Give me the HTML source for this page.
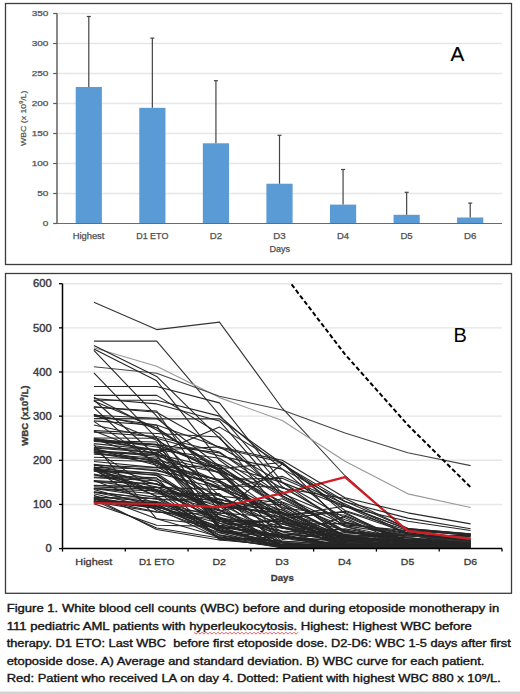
<!DOCTYPE html>
<html><head><meta charset="utf-8"><style>
html,body{margin:0;padding:0;background:#fff;}
body{width:520px;height:694px;overflow:hidden;font-family:"Liberation Sans",sans-serif;}
svg{display:block;}
</style></head><body>
<svg width="520" height="694" viewBox="0 0 520 694">
<rect x="0" y="0" width="520" height="694" fill="#fff"/>
<rect x="0" y="691.6" width="520" height="2.4" fill="#d2d2d2"/>
<rect x="5.5" y="3.5" width="506" height="261" fill="none" stroke="#3c3c3c" stroke-width="1.3"/>
<rect x="5.5" y="273.5" width="506" height="319.8" fill="none" stroke="#3c3c3c" stroke-width="1.3"/>
<line x1="57.0" y1="193.50" x2="502.0" y2="193.50" stroke="#e6e6e6" stroke-width="1.4"/>
<line x1="57.0" y1="163.50" x2="502.0" y2="163.50" stroke="#e6e6e6" stroke-width="1.4"/>
<line x1="57.0" y1="133.50" x2="502.0" y2="133.50" stroke="#e6e6e6" stroke-width="1.4"/>
<line x1="57.0" y1="103.50" x2="502.0" y2="103.50" stroke="#e6e6e6" stroke-width="1.4"/>
<line x1="57.0" y1="73.50" x2="502.0" y2="73.50" stroke="#e6e6e6" stroke-width="1.4"/>
<line x1="57.0" y1="43.50" x2="502.0" y2="43.50" stroke="#e6e6e6" stroke-width="1.4"/>
<line x1="57.0" y1="13.50" x2="502.0" y2="13.50" stroke="#e6e6e6" stroke-width="1.4"/>
<rect x="75.69" y="87.00" width="26.2" height="136.50" fill="#5b9bd5"/>
<rect x="139.26" y="107.82" width="26.2" height="115.68" fill="#5b9bd5"/>
<rect x="202.83" y="143.28" width="26.2" height="80.22" fill="#5b9bd5"/>
<rect x="266.40" y="183.72" width="26.2" height="39.78" fill="#5b9bd5"/>
<rect x="329.97" y="204.60" width="26.2" height="18.90" fill="#5b9bd5"/>
<rect x="393.54" y="214.80" width="26.2" height="8.70" fill="#5b9bd5"/>
<rect x="457.11" y="217.50" width="26.2" height="6.00" fill="#5b9bd5"/>
<line x1="88.79" y1="87.00" x2="88.79" y2="16.50" stroke="#444" stroke-width="1.2"/>
<line x1="86.79" y1="16.50" x2="90.79" y2="16.50" stroke="#444" stroke-width="1.2"/>
<line x1="152.36" y1="107.82" x2="152.36" y2="38.10" stroke="#444" stroke-width="1.2"/>
<line x1="150.36" y1="38.10" x2="154.36" y2="38.10" stroke="#444" stroke-width="1.2"/>
<line x1="215.93" y1="143.28" x2="215.93" y2="80.70" stroke="#444" stroke-width="1.2"/>
<line x1="213.93" y1="80.70" x2="217.93" y2="80.70" stroke="#444" stroke-width="1.2"/>
<line x1="279.50" y1="183.72" x2="279.50" y2="135.30" stroke="#444" stroke-width="1.2"/>
<line x1="277.50" y1="135.30" x2="281.50" y2="135.30" stroke="#444" stroke-width="1.2"/>
<line x1="343.07" y1="204.60" x2="343.07" y2="169.50" stroke="#444" stroke-width="1.2"/>
<line x1="341.07" y1="169.50" x2="345.07" y2="169.50" stroke="#444" stroke-width="1.2"/>
<line x1="406.64" y1="214.80" x2="406.64" y2="192.30" stroke="#444" stroke-width="1.2"/>
<line x1="404.64" y1="192.30" x2="408.64" y2="192.30" stroke="#444" stroke-width="1.2"/>
<line x1="470.21" y1="217.50" x2="470.21" y2="203.10" stroke="#444" stroke-width="1.2"/>
<line x1="468.21" y1="203.10" x2="472.21" y2="203.10" stroke="#444" stroke-width="1.2"/>
<line x1="57.0" y1="13.50" x2="57.0" y2="223.5" stroke="#6b6b6b" stroke-width="1.6"/>
<line x1="53.2" y1="223.50" x2="57.0" y2="223.50" stroke="#5a5a5a" stroke-width="1.2"/>
<line x1="53.2" y1="193.50" x2="57.0" y2="193.50" stroke="#5a5a5a" stroke-width="1.2"/>
<line x1="53.2" y1="163.50" x2="57.0" y2="163.50" stroke="#5a5a5a" stroke-width="1.2"/>
<line x1="53.2" y1="133.50" x2="57.0" y2="133.50" stroke="#5a5a5a" stroke-width="1.2"/>
<line x1="53.2" y1="103.50" x2="57.0" y2="103.50" stroke="#5a5a5a" stroke-width="1.2"/>
<line x1="53.2" y1="73.50" x2="57.0" y2="73.50" stroke="#5a5a5a" stroke-width="1.2"/>
<line x1="53.2" y1="43.50" x2="57.0" y2="43.50" stroke="#5a5a5a" stroke-width="1.2"/>
<line x1="53.2" y1="13.50" x2="57.0" y2="13.50" stroke="#5a5a5a" stroke-width="1.2"/>
<line x1="57.0" y1="223.5" x2="502.0" y2="223.5" stroke="#6b6b6b" stroke-width="1"/>
<text x="42.80" y="226.35" font-family="Liberation Sans, sans-serif" font-size="8.0" fill="#505050" stroke="#505050" stroke-width="0.25" textLength="5.56" lengthAdjust="spacingAndGlyphs">0</text>
<text x="37.20" y="196.35" font-family="Liberation Sans, sans-serif" font-size="8.0" fill="#505050" stroke="#505050" stroke-width="0.25" textLength="11.12" lengthAdjust="spacingAndGlyphs">50</text>
<text x="31.70" y="166.35" font-family="Liberation Sans, sans-serif" font-size="8.0" fill="#505050" stroke="#505050" stroke-width="0.25" textLength="16.68" lengthAdjust="spacingAndGlyphs">100</text>
<text x="31.70" y="136.35" font-family="Liberation Sans, sans-serif" font-size="8.0" fill="#505050" stroke="#505050" stroke-width="0.25" textLength="16.68" lengthAdjust="spacingAndGlyphs">150</text>
<text x="31.70" y="106.35" font-family="Liberation Sans, sans-serif" font-size="8.0" fill="#505050" stroke="#505050" stroke-width="0.25" textLength="16.68" lengthAdjust="spacingAndGlyphs">200</text>
<text x="31.70" y="76.35" font-family="Liberation Sans, sans-serif" font-size="8.0" fill="#505050" stroke="#505050" stroke-width="0.25" textLength="16.68" lengthAdjust="spacingAndGlyphs">250</text>
<text x="31.70" y="46.35" font-family="Liberation Sans, sans-serif" font-size="8.0" fill="#505050" stroke="#505050" stroke-width="0.25" textLength="16.68" lengthAdjust="spacingAndGlyphs">300</text>
<text x="31.70" y="16.35" font-family="Liberation Sans, sans-serif" font-size="8.0" fill="#505050" stroke="#505050" stroke-width="0.25" textLength="16.68" lengthAdjust="spacingAndGlyphs">350</text>
<text x="72.65" y="238.70" font-family="Liberation Sans, sans-serif" font-size="8.3" fill="#505050" stroke="#505050" stroke-width="0.25" textLength="31.75" lengthAdjust="spacingAndGlyphs">Highest</text>
<text x="136.18" y="238.70" font-family="Liberation Sans, sans-serif" font-size="8.3" fill="#505050" stroke="#505050" stroke-width="0.25" textLength="32.21" lengthAdjust="spacingAndGlyphs">D1 ETO</text>
<text x="209.76" y="238.70" font-family="Liberation Sans, sans-serif" font-size="8.3" fill="#505050" stroke="#505050" stroke-width="0.25" textLength="12.34" lengthAdjust="spacingAndGlyphs">D2</text>
<text x="273.33" y="238.70" font-family="Liberation Sans, sans-serif" font-size="8.3" fill="#505050" stroke="#505050" stroke-width="0.25" textLength="12.34" lengthAdjust="spacingAndGlyphs">D3</text>
<text x="336.91" y="238.70" font-family="Liberation Sans, sans-serif" font-size="8.3" fill="#505050" stroke="#505050" stroke-width="0.25" textLength="12.13" lengthAdjust="spacingAndGlyphs">D4</text>
<text x="400.48" y="238.70" font-family="Liberation Sans, sans-serif" font-size="8.3" fill="#505050" stroke="#505050" stroke-width="0.25" textLength="12.23" lengthAdjust="spacingAndGlyphs">D5</text>
<text x="464.04" y="238.70" font-family="Liberation Sans, sans-serif" font-size="8.3" fill="#505050" stroke="#505050" stroke-width="0.25" textLength="12.34" lengthAdjust="spacingAndGlyphs">D6</text>
<text x="269.48" y="251.90" font-family="Liberation Sans, sans-serif" font-size="8.3" fill="#505050" stroke="#505050" stroke-width="0.25" textLength="20.57" lengthAdjust="spacingAndGlyphs">Days</text>
<text transform="translate(25.7,118.3) rotate(-90) scale(1.12,1)" x="0" y="0" font-family="Liberation Sans, sans-serif" font-size="7.8" fill="#505050" stroke="#505050" stroke-width="0.2" text-anchor="middle">WBC (x 10<tspan font-size="4.8" dy="-2.6">9</tspan><tspan dy="2.6">/L)</tspan></text>
<text x="450.6" y="60.6" font-family="Liberation Sans, sans-serif" font-size="20.6" fill="#000" stroke="#000" stroke-width="0.15">A</text>
<line x1="62.5" y1="504.45" x2="502.0" y2="504.45" stroke="#e6e6e6" stroke-width="1.4"/>
<line x1="62.5" y1="460.30" x2="502.0" y2="460.30" stroke="#e6e6e6" stroke-width="1.4"/>
<line x1="62.5" y1="416.15" x2="502.0" y2="416.15" stroke="#e6e6e6" stroke-width="1.4"/>
<line x1="62.5" y1="372.00" x2="502.0" y2="372.00" stroke="#e6e6e6" stroke-width="1.4"/>
<line x1="62.5" y1="327.85" x2="502.0" y2="327.85" stroke="#e6e6e6" stroke-width="1.4"/>
<line x1="62.5" y1="283.70" x2="502.0" y2="283.70" stroke="#e6e6e6" stroke-width="1.4"/>
<g><polyline points="93.89,476.99 156.68,479.02 219.46,503.89 282.25,534.41 345.04,546.64 407.82,547.39 470.61,546.89" fill="none" stroke="#262626" stroke-width="1.1" stroke-linejoin="round"/><polyline points="93.89,452.21 156.68,454.79 219.46,481.45 282.25,541.93 345.04,542.51 407.82,544.49 470.61,544.95" fill="none" stroke="#262626" stroke-width="1.1" stroke-linejoin="round"/><polyline points="93.89,420.88 156.68,425.30 219.46,528.24 282.25,518.59 345.04,511.34 407.82,532.79 470.61,540.38" fill="none" stroke="#262626" stroke-width="1.1" stroke-linejoin="round"/><polyline points="93.89,447.94 156.68,452.67 219.46,500.15 282.25,542.63 345.04,547.25 407.82,548.20 470.61,547.71" fill="none" stroke="#262626" stroke-width="1.1" stroke-linejoin="round"/><polyline points="93.89,452.64 156.68,463.52 219.46,480.77 282.25,512.22 345.04,543.80 407.82,546.81 470.61,547.68" fill="none" stroke="#262626" stroke-width="1.1" stroke-linejoin="round"/><polyline points="93.89,406.93 156.68,411.05 219.46,504.60 282.25,509.69 345.04,544.24 407.82,547.06 470.61,542.42" fill="none" stroke="#262626" stroke-width="1.1" stroke-linejoin="round"/><polyline points="93.89,468.07 156.68,491.41 219.46,519.18 282.25,536.96 345.04,546.77 407.82,548.29 470.61,548.47" fill="none" stroke="#262626" stroke-width="1.1" stroke-linejoin="round"/><polyline points="93.89,493.81 156.68,508.33 219.46,538.23 282.25,547.64 345.04,548.12 407.82,547.11 470.61,548.30" fill="none" stroke="#262626" stroke-width="1.1" stroke-linejoin="round"/><polyline points="93.89,474.74 156.68,489.84 219.46,520.64 282.25,546.50 345.04,540.24 407.82,545.33 470.61,546.79" fill="none" stroke="#262626" stroke-width="1.1" stroke-linejoin="round"/><polyline points="93.89,432.15 156.68,436.53 219.46,452.03 282.25,496.12 345.04,524.88 407.82,530.66 470.61,534.98" fill="none" stroke="#262626" stroke-width="1.1" stroke-linejoin="round"/><polyline points="93.89,501.66 156.68,505.77 219.46,506.77 282.25,513.37 345.04,546.74 407.82,547.84 470.61,547.42" fill="none" stroke="#262626" stroke-width="1.1" stroke-linejoin="round"/><polyline points="93.89,502.77 156.68,506.10 219.46,526.89 282.25,537.42 345.04,541.44 407.82,545.15 470.61,543.89" fill="none" stroke="#262626" stroke-width="1.1" stroke-linejoin="round"/><polyline points="93.89,469.36 156.68,475.45 219.46,518.40 282.25,531.50 345.04,547.99 407.82,548.39 470.61,548.38" fill="none" stroke="#262626" stroke-width="1.1" stroke-linejoin="round"/><polyline points="93.89,497.84 156.68,506.58 219.46,529.00 282.25,523.68 345.04,545.60 407.82,544.42 470.61,547.32" fill="none" stroke="#262626" stroke-width="1.1" stroke-linejoin="round"/><polyline points="93.89,480.55 156.68,483.95 219.46,510.61 282.25,536.54 345.04,541.16 407.82,544.68 470.61,545.11" fill="none" stroke="#262626" stroke-width="1.1" stroke-linejoin="round"/><polyline points="93.89,440.15 156.68,444.20 219.46,470.49 282.25,517.11 345.04,537.24 407.82,539.98 470.61,545.73" fill="none" stroke="#262626" stroke-width="1.1" stroke-linejoin="round"/><polyline points="93.89,485.30 156.68,487.38 219.46,489.47 282.25,476.29 345.04,503.88 407.82,533.68 470.61,541.67" fill="none" stroke="#262626" stroke-width="1.1" stroke-linejoin="round"/><polyline points="93.89,467.36 156.68,469.28 219.46,496.08 282.25,502.71 345.04,537.83 407.82,541.72 470.61,540.98" fill="none" stroke="#262626" stroke-width="1.1" stroke-linejoin="round"/><polyline points="93.89,400.89 156.68,427.92 219.46,471.29 282.25,527.75 345.04,544.20 407.82,545.43 470.61,546.15" fill="none" stroke="#262626" stroke-width="1.1" stroke-linejoin="round"/><polyline points="93.89,499.14 156.68,511.78 219.46,519.80 282.25,521.45 345.04,547.98 407.82,547.08 470.61,548.14" fill="none" stroke="#262626" stroke-width="1.1" stroke-linejoin="round"/><polyline points="93.89,470.55 156.68,496.19 219.46,530.92 282.25,543.22 345.04,545.47 407.82,546.65 470.61,547.33" fill="none" stroke="#262626" stroke-width="1.1" stroke-linejoin="round"/><polyline points="93.89,440.62 156.68,444.79 219.46,468.76 282.25,462.49 345.04,525.63 407.82,535.40 470.61,541.82" fill="none" stroke="#262626" stroke-width="1.1" stroke-linejoin="round"/><polyline points="93.89,460.07 156.68,461.57 219.46,517.59 282.25,546.52 345.04,546.02 407.82,547.87 470.61,548.24" fill="none" stroke="#262626" stroke-width="1.1" stroke-linejoin="round"/><polyline points="93.89,501.07 156.68,502.49 219.46,520.89 282.25,537.92 345.04,547.32 407.82,546.75 470.61,545.12" fill="none" stroke="#262626" stroke-width="1.1" stroke-linejoin="round"/><polyline points="93.89,431.05 156.68,455.30 219.46,525.62 282.25,520.44 345.04,540.50 407.82,546.34 470.61,546.64" fill="none" stroke="#262626" stroke-width="1.1" stroke-linejoin="round"/><polyline points="93.89,452.74 156.68,460.46 219.46,503.40 282.25,504.53 345.04,547.17 407.82,547.94 470.61,548.19" fill="none" stroke="#262626" stroke-width="1.1" stroke-linejoin="round"/><polyline points="93.89,464.41 156.68,470.84 219.46,482.47 282.25,515.75 345.04,547.39 407.82,547.96 470.61,548.41" fill="none" stroke="#262626" stroke-width="1.1" stroke-linejoin="round"/><polyline points="93.89,438.89 156.68,460.26 219.46,472.54 282.25,526.95 345.04,544.08 407.82,546.78 470.61,547.12" fill="none" stroke="#262626" stroke-width="1.1" stroke-linejoin="round"/><polyline points="93.89,488.52 156.68,497.37 219.46,531.02 282.25,546.96 345.04,548.41 407.82,548.15 470.61,548.37" fill="none" stroke="#262626" stroke-width="1.1" stroke-linejoin="round"/><polyline points="93.89,469.53 156.68,492.70 219.46,510.90 282.25,498.75 345.04,531.92 407.82,540.18 470.61,539.82" fill="none" stroke="#262626" stroke-width="1.1" stroke-linejoin="round"/><polyline points="93.89,492.29 156.68,504.07 219.46,536.90 282.25,545.64 345.04,546.71 407.82,547.68 470.61,548.08" fill="none" stroke="#262626" stroke-width="1.1" stroke-linejoin="round"/><polyline points="93.89,477.70 156.68,480.68 219.46,526.46 282.25,547.32 345.04,548.08 407.82,547.42 470.61,547.94" fill="none" stroke="#262626" stroke-width="1.1" stroke-linejoin="round"/><polyline points="93.89,498.92 156.68,505.94 219.46,529.68 282.25,546.70 345.04,548.18 407.82,548.30 470.61,547.59" fill="none" stroke="#262626" stroke-width="1.1" stroke-linejoin="round"/><polyline points="93.89,485.57 156.68,487.33 219.46,506.45 282.25,547.11 345.04,548.15 407.82,548.07 470.61,548.15" fill="none" stroke="#262626" stroke-width="1.1" stroke-linejoin="round"/><polyline points="93.89,443.65 156.68,450.07 219.46,446.85 282.25,482.75 345.04,517.78 407.82,546.24 470.61,545.61" fill="none" stroke="#262626" stroke-width="1.1" stroke-linejoin="round"/><polyline points="93.89,418.65 156.68,418.85 219.46,418.73 282.25,463.72 345.04,510.56 407.82,530.49 470.61,538.69" fill="none" stroke="#262626" stroke-width="1.1" stroke-linejoin="round"/><polyline points="93.89,457.22 156.68,459.26 219.46,526.84 282.25,535.43 345.04,545.34 407.82,545.96 470.61,547.32" fill="none" stroke="#262626" stroke-width="1.1" stroke-linejoin="round"/><polyline points="93.89,414.49 156.68,440.25 219.46,473.58 282.25,527.77 345.04,529.74 407.82,543.94 470.61,545.44" fill="none" stroke="#262626" stroke-width="1.1" stroke-linejoin="round"/><polyline points="93.89,444.61 156.68,518.77 219.46,526.07 282.25,535.22 345.04,528.85 407.82,539.80 470.61,543.50" fill="none" stroke="#262626" stroke-width="1.1" stroke-linejoin="round"/><polyline points="93.89,448.60 156.68,462.26 219.46,480.41 282.25,519.13 345.04,534.65 407.82,537.84 470.61,544.23" fill="none" stroke="#262626" stroke-width="1.1" stroke-linejoin="round"/><polyline points="93.89,415.18 156.68,418.22 219.46,466.28 282.25,508.03 345.04,515.26 407.82,541.32 470.61,543.68" fill="none" stroke="#262626" stroke-width="1.1" stroke-linejoin="round"/><polyline points="93.89,481.13 156.68,489.94 219.46,498.87 282.25,519.92 345.04,537.51 407.82,547.69 470.61,548.10" fill="none" stroke="#262626" stroke-width="1.1" stroke-linejoin="round"/><polyline points="93.89,450.92 156.68,454.39 219.46,468.48 282.25,508.56 345.04,538.71 407.82,542.18 470.61,544.58" fill="none" stroke="#262626" stroke-width="1.1" stroke-linejoin="round"/><polyline points="93.89,492.14 156.68,499.01 219.46,499.65 282.25,512.16 345.04,536.33 407.82,535.08 470.61,540.36" fill="none" stroke="#262626" stroke-width="1.1" stroke-linejoin="round"/><polyline points="93.89,414.56 156.68,427.78 219.46,469.79 282.25,502.01 345.04,526.44 407.82,544.64 470.61,547.55" fill="none" stroke="#262626" stroke-width="1.1" stroke-linejoin="round"/><polyline points="93.89,471.12 156.68,474.72 219.46,517.11 282.25,542.67 345.04,547.34 407.82,547.77 470.61,547.72" fill="none" stroke="#262626" stroke-width="1.1" stroke-linejoin="round"/><polyline points="93.89,470.49 156.68,473.26 219.46,514.79 282.25,531.14 345.04,534.18 407.82,546.86 470.61,547.61" fill="none" stroke="#262626" stroke-width="1.1" stroke-linejoin="round"/><polyline points="93.89,489.57 156.68,506.96 219.46,523.32 282.25,544.40 345.04,545.88 407.82,538.74 470.61,544.79" fill="none" stroke="#262626" stroke-width="1.1" stroke-linejoin="round"/><polyline points="93.89,465.41 156.68,467.47 219.46,479.41 282.25,478.15 345.04,506.01 407.82,534.64 470.61,544.75" fill="none" stroke="#262626" stroke-width="1.1" stroke-linejoin="round"/><polyline points="93.89,461.47 156.68,467.62 219.46,465.54 282.25,506.66 345.04,535.56 407.82,544.39 470.61,544.56" fill="none" stroke="#262626" stroke-width="1.1" stroke-linejoin="round"/><polyline points="93.89,468.93 156.68,510.47 219.46,532.65 282.25,548.07 345.04,548.32 407.82,548.18 470.61,547.84" fill="none" stroke="#262626" stroke-width="1.1" stroke-linejoin="round"/><polyline points="93.89,470.82 156.68,483.96 219.46,513.13 282.25,517.31 345.04,546.78 407.82,548.19 470.61,548.37" fill="none" stroke="#262626" stroke-width="1.1" stroke-linejoin="round"/><polyline points="93.89,440.03 156.68,445.03 219.46,509.72 282.25,533.74 345.04,539.59 407.82,547.53 470.61,548.34" fill="none" stroke="#262626" stroke-width="1.1" stroke-linejoin="round"/><polyline points="93.89,496.89 156.68,501.60 219.46,517.63 282.25,528.19 345.04,536.80 407.82,536.70 470.61,535.92" fill="none" stroke="#262626" stroke-width="1.1" stroke-linejoin="round"/><polyline points="93.89,495.22 156.68,518.70 219.46,537.07 282.25,547.60 345.04,543.97 407.82,546.13 470.61,546.95" fill="none" stroke="#262626" stroke-width="1.1" stroke-linejoin="round"/><polyline points="93.89,498.78 156.68,508.69 219.46,530.37 282.25,542.79 345.04,547.35 407.82,546.85 470.61,547.10" fill="none" stroke="#262626" stroke-width="1.1" stroke-linejoin="round"/><polyline points="93.89,451.03 156.68,456.26 219.46,472.01 282.25,491.54 345.04,538.45 407.82,542.12 470.61,545.81" fill="none" stroke="#262626" stroke-width="1.1" stroke-linejoin="round"/><polyline points="93.89,501.61 156.68,512.30 219.46,514.53 282.25,534.76 345.04,535.67 407.82,542.68 470.61,544.75" fill="none" stroke="#262626" stroke-width="1.1" stroke-linejoin="round"/><polyline points="93.89,480.45 156.68,503.66 219.46,535.60 282.25,545.02 345.04,547.43 407.82,547.55 470.61,547.42" fill="none" stroke="#262626" stroke-width="1.1" stroke-linejoin="round"/><polyline points="93.89,481.60 156.68,483.76 219.46,510.01 282.25,546.51 345.04,546.39 407.82,545.52 470.61,546.87" fill="none" stroke="#262626" stroke-width="1.1" stroke-linejoin="round"/><polyline points="93.89,445.79 156.68,453.37 219.46,427.11 282.25,464.12 345.04,501.28 407.82,528.44 470.61,533.70" fill="none" stroke="#262626" stroke-width="1.1" stroke-linejoin="round"/><polyline points="93.89,473.96 156.68,486.98 219.46,523.02 282.25,526.92 345.04,544.99 407.82,546.43 470.61,547.10" fill="none" stroke="#262626" stroke-width="1.1" stroke-linejoin="round"/><polyline points="93.89,491.73 156.68,499.24 219.46,502.57 282.25,517.34 345.04,543.96 407.82,540.33 470.61,536.39" fill="none" stroke="#262626" stroke-width="1.1" stroke-linejoin="round"/><polyline points="93.89,468.38 156.68,473.32 219.46,488.17 282.25,510.19 345.04,540.29 407.82,546.42 470.61,546.18" fill="none" stroke="#262626" stroke-width="1.1" stroke-linejoin="round"/><polyline points="93.89,488.66 156.68,490.86 219.46,502.15 282.25,524.07 345.04,523.58 407.82,532.61 470.61,541.52" fill="none" stroke="#262626" stroke-width="1.1" stroke-linejoin="round"/><polyline points="93.89,397.25 156.68,429.91 219.46,467.16 282.25,539.33 345.04,531.74 407.82,534.63 470.61,544.82" fill="none" stroke="#262626" stroke-width="1.1" stroke-linejoin="round"/><polyline points="93.89,400.03 156.68,456.01 219.46,518.97 282.25,542.01 345.04,537.06 407.82,542.88 470.61,547.16" fill="none" stroke="#262626" stroke-width="1.1" stroke-linejoin="round"/><polyline points="93.89,449.12 156.68,465.28 219.46,486.86 282.25,514.27 345.04,539.31 407.82,546.55 470.61,547.06" fill="none" stroke="#262626" stroke-width="1.1" stroke-linejoin="round"/><polyline points="93.89,474.95 156.68,477.86 219.46,539.91 282.25,536.59 345.04,545.71 407.82,544.62 470.61,546.76" fill="none" stroke="#262626" stroke-width="1.1" stroke-linejoin="round"/><polyline points="93.89,454.16 156.68,457.97 219.46,489.03 282.25,516.20 345.04,506.07 407.82,529.15 470.61,535.65" fill="none" stroke="#262626" stroke-width="1.1" stroke-linejoin="round"/><polyline points="93.89,440.35 156.68,449.86 219.46,458.30 282.25,497.12 345.04,532.91 407.82,535.77 470.61,535.28" fill="none" stroke="#262626" stroke-width="1.1" stroke-linejoin="round"/><polyline points="93.89,497.20 156.68,498.47 219.46,534.86 282.25,545.06 345.04,546.06 407.82,547.40 470.61,544.19" fill="none" stroke="#262626" stroke-width="1.1" stroke-linejoin="round"/><polyline points="93.89,500.35 156.68,528.04 219.46,537.92 282.25,540.99 345.04,545.44 407.82,544.91 470.61,548.00" fill="none" stroke="#262626" stroke-width="1.1" stroke-linejoin="round"/><polyline points="93.89,438.62 156.68,450.93 219.46,485.78 282.25,487.09 345.04,522.93 407.82,533.90 470.61,542.66" fill="none" stroke="#262626" stroke-width="1.1" stroke-linejoin="round"/><polyline points="93.89,430.65 156.68,433.46 219.46,436.97 282.25,514.43 345.04,512.31 407.82,545.99 470.61,546.85" fill="none" stroke="#262626" stroke-width="1.1" stroke-linejoin="round"/><polyline points="93.89,450.12 156.68,490.64 219.46,538.91 282.25,546.67 345.04,548.28 407.82,548.28 470.61,548.40" fill="none" stroke="#262626" stroke-width="1.1" stroke-linejoin="round"/><polyline points="93.89,406.92 156.68,412.23 219.46,447.95 282.25,462.31 345.04,513.48 407.82,541.73 470.61,542.42" fill="none" stroke="#262626" stroke-width="1.1" stroke-linejoin="round"/><polyline points="93.89,447.67 156.68,449.68 219.46,506.31 282.25,512.80 345.04,530.52 407.82,545.23 470.61,546.99" fill="none" stroke="#262626" stroke-width="1.1" stroke-linejoin="round"/><polyline points="93.89,438.03 156.68,438.25 219.46,530.40 282.25,536.40 345.04,547.36 407.82,548.40 470.61,548.42" fill="none" stroke="#262626" stroke-width="1.1" stroke-linejoin="round"/><polyline points="93.89,464.49 156.68,481.23 219.46,521.53 282.25,521.44 345.04,538.79 407.82,545.93 470.61,547.49" fill="none" stroke="#262626" stroke-width="1.1" stroke-linejoin="round"/><polyline points="93.89,497.99 156.68,529.57 219.46,540.04 282.25,545.54 345.04,547.60 407.82,546.84 470.61,547.53" fill="none" stroke="#262626" stroke-width="1.1" stroke-linejoin="round"/><polyline points="93.89,486.85 156.68,489.25 219.46,532.65 282.25,536.74 345.04,516.36 407.82,542.71 470.61,537.83" fill="none" stroke="#262626" stroke-width="1.1" stroke-linejoin="round"/><polyline points="93.89,466.87 156.68,496.62 219.46,495.04 282.25,532.03 345.04,541.61 407.82,543.92 470.61,547.18" fill="none" stroke="#262626" stroke-width="1.1" stroke-linejoin="round"/><polyline points="93.89,441.38 156.68,444.63 219.46,452.92 282.25,488.17 345.04,498.56 407.82,528.44 470.61,534.11" fill="none" stroke="#262626" stroke-width="1.1" stroke-linejoin="round"/><polyline points="93.89,407.72 156.68,466.26 219.46,504.48 282.25,548.15 345.04,547.54 407.82,548.02 470.61,547.51" fill="none" stroke="#262626" stroke-width="1.1" stroke-linejoin="round"/><polyline points="93.89,398.51 156.68,403.91 219.46,420.93 282.25,493.57 345.04,519.78 407.82,540.87 470.61,541.97" fill="none" stroke="#262626" stroke-width="1.1" stroke-linejoin="round"/><polyline points="93.89,501.16 156.68,507.93 219.46,513.03 282.25,463.97 345.04,505.46 407.82,529.55 470.61,533.95" fill="none" stroke="#262626" stroke-width="1.1" stroke-linejoin="round"/><polyline points="93.89,502.20 156.68,502.82 219.46,527.13 282.25,547.12 345.04,543.71 407.82,543.78 470.61,544.96" fill="none" stroke="#262626" stroke-width="1.1" stroke-linejoin="round"/><polyline points="93.89,467.89 156.68,484.39 219.46,501.76 282.25,528.14 345.04,536.98 407.82,545.13 470.61,546.32" fill="none" stroke="#262626" stroke-width="1.1" stroke-linejoin="round"/><polyline points="93.89,503.67 156.68,525.25 219.46,526.40 282.25,536.33 345.04,546.01 407.82,547.10 470.61,547.94" fill="none" stroke="#262626" stroke-width="1.1" stroke-linejoin="round"/><polyline points="93.89,421.40 156.68,463.40 219.46,487.76 282.25,523.88 345.04,539.97 407.82,540.88 470.61,534.45" fill="none" stroke="#262626" stroke-width="1.1" stroke-linejoin="round"/><polyline points="93.89,488.37 156.68,493.95 219.46,493.60 282.25,546.53 345.04,547.04 407.82,546.58 470.61,544.81" fill="none" stroke="#262626" stroke-width="1.1" stroke-linejoin="round"/><polyline points="93.89,440.66 156.68,442.00 219.46,528.67 282.25,544.84 345.04,547.27 407.82,546.60 470.61,547.14" fill="none" stroke="#262626" stroke-width="1.1" stroke-linejoin="round"/><polyline points="93.89,302.24 156.68,329.62 219.46,322.11 282.25,408.20 345.04,475.75 407.82,531.38 470.61,539.77" fill="none" stroke="#333" stroke-width="1.1" stroke-linejoin="round"/><polyline points="93.89,341.10 156.68,341.10 219.46,414.83 282.25,486.79 345.04,522.11 407.82,535.36 470.61,541.98" fill="none" stroke="#333" stroke-width="1.1" stroke-linejoin="round"/><polyline points="93.89,347.72 156.68,366.26 219.46,397.61 282.25,420.56 345.04,461.18 407.82,493.85 470.61,507.54" fill="none" stroke="#999" stroke-width="1.1" stroke-linejoin="round"/><polyline points="93.89,366.70 156.68,373.32 219.46,396.28 282.25,409.97 345.04,432.93 407.82,452.79 470.61,465.60" fill="none" stroke="#444" stroke-width="1.1" stroke-linejoin="round"/><polyline points="93.89,345.51 156.68,376.41 219.46,438.23 282.25,495.62 345.04,530.94 407.82,539.77 470.61,544.19" fill="none" stroke="#262626" stroke-width="1.1" stroke-linejoin="round"/><polyline points="93.89,349.04 156.68,380.83 219.46,460.30 282.25,504.45 345.04,535.36 407.82,541.98 470.61,545.07" fill="none" stroke="#262626" stroke-width="1.1" stroke-linejoin="round"/><polyline points="93.89,350.37 156.68,416.15 219.46,482.38 282.25,522.11 345.04,539.77 407.82,544.19 470.61,546.39" fill="none" stroke="#262626" stroke-width="1.1" stroke-linejoin="round"/><polyline points="93.89,503.13 156.68,504.01 219.46,507.10 282.25,493.41 345.04,477.08 407.82,530.94 470.61,538.89" fill="none" stroke="#d41c24" stroke-width="2.2" stroke-linejoin="round"/><polyline points="93.89,372.88 156.68,438.23 219.46,495.62 282.25,526.52 345.04,540.65 407.82,545.07 470.61,546.83" fill="none" stroke="#262626" stroke-width="1.1" stroke-linejoin="round"/><polyline points="93.89,386.57 156.68,386.57 219.46,402.90 282.25,482.38 345.04,526.52 407.82,539.77 470.61,544.19" fill="none" stroke="#262626" stroke-width="1.1" stroke-linejoin="round"/><polyline points="93.89,395.40 156.68,395.40 219.46,433.81 282.25,495.62 345.04,530.94 407.82,541.98 470.61,545.07" fill="none" stroke="#262626" stroke-width="1.1" stroke-linejoin="round"/><polyline points="93.89,400.26 156.68,400.26 219.46,416.15 282.25,469.13 345.04,522.11 407.82,537.56 470.61,543.30" fill="none" stroke="#262626" stroke-width="1.1" stroke-linejoin="round"/><polyline points="93.89,416.15 156.68,424.98 219.46,447.06 282.25,460.30 345.04,497.83 407.82,512.84 470.61,523.88" fill="none" stroke="#262626" stroke-width="1.1" stroke-linejoin="round"/><polyline points="93.89,424.98 156.68,438.23 219.46,455.88 282.25,469.13 345.04,501.80 407.82,518.14 470.61,528.73" fill="none" stroke="#262626" stroke-width="1.1" stroke-linejoin="round"/><polyline points="93.89,438.23 156.68,447.06 219.46,464.72 282.25,482.38 345.04,506.66 407.82,521.23 470.61,530.50" fill="none" stroke="#262626" stroke-width="1.1" stroke-linejoin="round"/></g>
<clipPath id="cb"><rect x="62.5" y="283.7" width="439.5" height="264.90000000000003"/></clipPath>
<polyline clip-path="url(#cb)" points="93.89,160.08 156.68,177.74 219.46,195.40 282.25,272.22 345.04,354.34 407.82,424.98 470.61,487.23" fill="none" stroke="#000" stroke-width="2" stroke-dasharray="4.5 2.5"/>
<line x1="62.5" y1="283.70" x2="62.5" y2="548.6" stroke="#000" stroke-width="1.5"/>
<line x1="59.0" y1="548.60" x2="62.5" y2="548.60" stroke="#000" stroke-width="1.3"/>
<line x1="59.0" y1="504.45" x2="62.5" y2="504.45" stroke="#000" stroke-width="1.3"/>
<line x1="59.0" y1="460.30" x2="62.5" y2="460.30" stroke="#000" stroke-width="1.3"/>
<line x1="59.0" y1="416.15" x2="62.5" y2="416.15" stroke="#000" stroke-width="1.3"/>
<line x1="59.0" y1="372.00" x2="62.5" y2="372.00" stroke="#000" stroke-width="1.3"/>
<line x1="59.0" y1="327.85" x2="62.5" y2="327.85" stroke="#000" stroke-width="1.3"/>
<line x1="59.0" y1="283.70" x2="62.5" y2="283.70" stroke="#000" stroke-width="1.3"/>
<line x1="62.5" y1="548.6" x2="502.0" y2="548.6" stroke="#000" stroke-width="1.5"/>
<line x1="62.50" y1="548.6" x2="62.50" y2="551.6" stroke="#000" stroke-width="1.3"/>
<line x1="125.29" y1="548.6" x2="125.29" y2="551.6" stroke="#000" stroke-width="1.3"/>
<line x1="188.07" y1="548.6" x2="188.07" y2="551.6" stroke="#000" stroke-width="1.3"/>
<line x1="250.86" y1="548.6" x2="250.86" y2="551.6" stroke="#000" stroke-width="1.3"/>
<line x1="313.64" y1="548.6" x2="313.64" y2="551.6" stroke="#000" stroke-width="1.3"/>
<line x1="376.43" y1="548.6" x2="376.43" y2="551.6" stroke="#000" stroke-width="1.3"/>
<line x1="439.21" y1="548.6" x2="439.21" y2="551.6" stroke="#000" stroke-width="1.3"/>
<line x1="502.00" y1="548.6" x2="502.00" y2="551.6" stroke="#000" stroke-width="1.3"/>
<text x="45.46" y="552.25" font-family="Liberation Sans, sans-serif" font-size="10.3" fill="#3a3a3a" stroke="#3a3a3a" stroke-width="0.4" textLength="6.24" lengthAdjust="spacingAndGlyphs">0</text>
<text x="33.00" y="508.10" font-family="Liberation Sans, sans-serif" font-size="10.3" fill="#3a3a3a" stroke="#3a3a3a" stroke-width="0.4" textLength="18.73" lengthAdjust="spacingAndGlyphs">100</text>
<text x="33.00" y="463.95" font-family="Liberation Sans, sans-serif" font-size="10.3" fill="#3a3a3a" stroke="#3a3a3a" stroke-width="0.4" textLength="18.73" lengthAdjust="spacingAndGlyphs">200</text>
<text x="33.00" y="419.80" font-family="Liberation Sans, sans-serif" font-size="10.3" fill="#3a3a3a" stroke="#3a3a3a" stroke-width="0.4" textLength="18.73" lengthAdjust="spacingAndGlyphs">300</text>
<text x="33.00" y="375.65" font-family="Liberation Sans, sans-serif" font-size="10.3" fill="#3a3a3a" stroke="#3a3a3a" stroke-width="0.4" textLength="18.73" lengthAdjust="spacingAndGlyphs">400</text>
<text x="33.00" y="331.50" font-family="Liberation Sans, sans-serif" font-size="10.3" fill="#3a3a3a" stroke="#3a3a3a" stroke-width="0.4" textLength="18.73" lengthAdjust="spacingAndGlyphs">500</text>
<text x="33.00" y="287.35" font-family="Liberation Sans, sans-serif" font-size="10.3" fill="#3a3a3a" stroke="#3a3a3a" stroke-width="0.4" textLength="18.73" lengthAdjust="spacingAndGlyphs">600</text>
<text x="75.33" y="565.40" font-family="Liberation Sans, sans-serif" font-size="9.5" fill="#3a3a3a" stroke="#3a3a3a" stroke-width="0.3" textLength="36.88" lengthAdjust="spacingAndGlyphs">Highest</text>
<text x="138.91" y="565.40" font-family="Liberation Sans, sans-serif" font-size="9.5" fill="#3a3a3a" stroke="#3a3a3a" stroke-width="0.3" textLength="35.42" lengthAdjust="spacingAndGlyphs">D1 ETO</text>
<text x="212.52" y="565.40" font-family="Liberation Sans, sans-serif" font-size="9.5" fill="#3a3a3a" stroke="#3a3a3a" stroke-width="0.3" textLength="13.45" lengthAdjust="spacingAndGlyphs">D2</text>
<text x="275.31" y="565.40" font-family="Liberation Sans, sans-serif" font-size="9.5" fill="#3a3a3a" stroke="#3a3a3a" stroke-width="0.3" textLength="13.45" lengthAdjust="spacingAndGlyphs">D3</text>
<text x="338.11" y="565.40" font-family="Liberation Sans, sans-serif" font-size="9.5" fill="#3a3a3a" stroke="#3a3a3a" stroke-width="0.3" textLength="13.22" lengthAdjust="spacingAndGlyphs">D4</text>
<text x="400.89" y="565.40" font-family="Liberation Sans, sans-serif" font-size="9.5" fill="#3a3a3a" stroke="#3a3a3a" stroke-width="0.3" textLength="13.33" lengthAdjust="spacingAndGlyphs">D5</text>
<text x="463.67" y="565.40" font-family="Liberation Sans, sans-serif" font-size="9.5" fill="#3a3a3a" stroke="#3a3a3a" stroke-width="0.3" textLength="13.45" lengthAdjust="spacingAndGlyphs">D6</text>
<text x="270.83" y="581.20" font-family="Liberation Sans, sans-serif" font-size="9.5" font-weight="bold" fill="#3a3a3a" stroke="#3a3a3a" stroke-width="0.3" textLength="22.96" lengthAdjust="spacingAndGlyphs">Days</text>
<text transform="translate(27.6,415.6) rotate(-90) scale(1.06,1)" x="0" y="0" font-family="Liberation Sans, sans-serif" font-size="9.1" font-weight="bold" fill="#3a3a3a" stroke="#3a3a3a" stroke-width="0.35" text-anchor="middle">WBC (x10<tspan font-size="6" dy="-3.2">9</tspan><tspan dy="3.2">/L)</tspan></text>
<text x="453.6" y="342.3" font-family="Liberation Sans, sans-serif" font-size="20" fill="#000">B</text>
<text x="6.7" y="611.7" font-family="Liberation Sans, sans-serif" font-size="10" fill="#141414" stroke="#141414" stroke-width="0.35" textLength="492.5" lengthAdjust="spacingAndGlyphs" xml:space="preserve">Figure 1. White blood cell counts (WBC) before and during etoposide monotherapy in</text>
<text x="6.7" y="629.8" font-family="Liberation Sans, sans-serif" font-size="10" fill="#141414" stroke="#141414" stroke-width="0.35" textLength="465.2" lengthAdjust="spacingAndGlyphs" xml:space="preserve">111 pediatric AML patients with hyperleukocytosis. Highest: Highest WBC before</text>
<text x="6.7" y="647.2" font-family="Liberation Sans, sans-serif" font-size="10" fill="#141414" stroke="#141414" stroke-width="0.35" textLength="504.1" lengthAdjust="spacingAndGlyphs" xml:space="preserve">therapy. D1 ETO: Last WBC  before first etoposide dose. D2-D6: WBC 1-5 days after first</text>
<text x="6.7" y="664.8" font-family="Liberation Sans, sans-serif" font-size="10" fill="#141414" stroke="#141414" stroke-width="0.35" textLength="477.7" lengthAdjust="spacingAndGlyphs" xml:space="preserve">etoposide dose. A) Average and standard deviation. B) WBC curve for each patient.</text>
<text x="6.7" y="682.3" font-family="Liberation Sans, sans-serif" font-size="10" fill="#141414" stroke="#141414" stroke-width="0.35" textLength="494.1" lengthAdjust="spacingAndGlyphs" xml:space="preserve">Red: Patient who received LA on day 4. Dotted: Patient with highest WBC 880 x 10<tspan font-size="6.5" dy="-3.5">9</tspan><tspan dy="3.5">/L.</tspan></text>
<polyline points="194.0,632.2 196.0,634.2 198.0,632.2 200.0,634.2 202.0,632.2 204.0,634.2 206.0,632.2 208.0,634.2 210.0,632.2 212.0,634.2 214.0,632.2 216.0,634.2 218.0,632.2 220.0,634.2 222.0,632.2 224.0,634.2 226.0,632.2 228.0,634.2 230.0,632.2 232.0,634.2 234.0,632.2 236.0,634.2 238.0,632.2 240.0,634.2 242.0,632.2 244.0,634.2 246.0,632.2 248.0,634.2 250.0,632.2 252.0,634.2 254.0,632.2 256.0,634.2 258.0,632.2 260.0,634.2 262.0,632.2 264.0,634.2 266.0,632.2 268.0,634.2 270.0,632.2 272.0,634.2 274.0,632.2 276.0,634.2 278.0,632.2 280.0,634.2 282.0,632.2 284.0,634.2 286.0,632.2 288.0,634.2 290.0,632.2 292.0,634.2 294.0,632.2 296.0,634.2 298.0,632.2" fill="none" stroke="#e0484f" stroke-width="0.9"/>
</svg>
</body></html>
